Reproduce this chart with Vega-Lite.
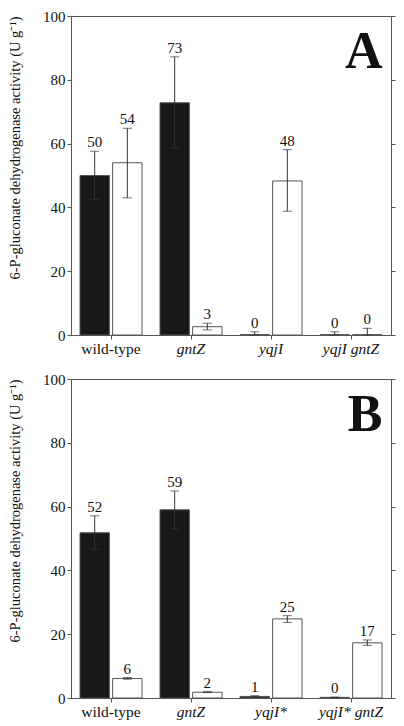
{
  "$schema": "https://vega.github.io/schema/vega-lite/v6.json",
  "padding": {"left": 6, "top": 8, "right": 4, "bottom": 4},
  "background": "white",
  "config": {
    "font": "Liberation Serif",
    "view": {"stroke": "#555", "strokeWidth": 1},
    "axis": {"domainColor": "#555", "tickColor": "#555", "labelColor": "#111", "titleColor": "#111", "labelFont": "Liberation Serif", "titleFont": "Liberation Serif", "grid": false},
    "concat": {"spacing": 14}
  },
  "datasets": {
    "bars": [
      {"panel": "A", "strain": "wild-type", "cond": "black", "value": 50, "lo": 42.5, "hi": 57.6, "label": "50"},
      {"panel": "A", "strain": "wild-type", "cond": "white", "value": 54, "lo": 43, "hi": 64.8, "label": "54"},
      {"panel": "A", "strain": "gntZ", "cond": "black", "value": 72.8, "lo": 58.5, "hi": 87.2, "label": "73"},
      {"panel": "A", "strain": "gntZ", "cond": "white", "value": 2.6, "lo": 1.6, "hi": 3.7, "label": "3"},
      {"panel": "A", "strain": "yqjI", "cond": "black", "value": 0.1, "lo": 0, "hi": 1.0, "label": "0"},
      {"panel": "A", "strain": "yqjI", "cond": "white", "value": 48.3, "lo": 38.8, "hi": 58.1, "label": "48"},
      {"panel": "A", "strain": "yqjI gntZ", "cond": "black", "value": 0.1, "lo": 0, "hi": 1.0, "label": "0"},
      {"panel": "A", "strain": "yqjI gntZ", "cond": "white", "value": 0.1, "lo": 0, "hi": 2.1, "label": "0"},
      {"panel": "B", "strain": "wild-type", "cond": "black", "value": 51.8, "lo": 46.5, "hi": 57.1, "label": "52"},
      {"panel": "B", "strain": "wild-type", "cond": "white", "value": 6.1, "lo": 5.9, "hi": 6.4, "label": "6"},
      {"panel": "B", "strain": "gntZ", "cond": "black", "value": 59, "lo": 53, "hi": 64.9, "label": "59"},
      {"panel": "B", "strain": "gntZ", "cond": "white", "value": 1.8, "lo": 1.7, "hi": 2.0, "label": "2"},
      {"panel": "B", "strain": "yqjI*", "cond": "black", "value": 0.5, "lo": 0.4, "hi": 0.7, "label": "1"},
      {"panel": "B", "strain": "yqjI*", "cond": "white", "value": 24.8, "lo": 23.7, "hi": 25.8, "label": "25"},
      {"panel": "B", "strain": "yqjI* gntZ", "cond": "black", "value": 0.2, "lo": 0.1, "hi": 0.3, "label": "0"},
      {"panel": "B", "strain": "yqjI* gntZ", "cond": "white", "value": 17.3, "lo": 16.5, "hi": 18.2, "label": "17"}
    ]
  },
  "vconcat": [
    {
      "width": 320,
      "height": 319,
      "title": {"text": "A", "anchor": "end", "orient": "top", "offset": -70, "dx": -13, "fontSize": 52, "fontWeight": "bold", "font": "Liberation Serif", "color": "#111"},
      "data": {"name": "bars"},
      "transform": [{"filter": "datum.panel == 'A'"}],
      "encoding": {
        "x": {"field": "strain", "type": "nominal", "sort": ["wild-type", "gntZ", "yqjI", "yqjI gntZ"],
          "scale": {"paddingInner": 0.225, "paddingOuter": 0.1125},
          "axis": {"title": null, "labelAngle": 0, "labelFontSize": 15.5, "tickSize": 4, "labelPadding": 2,
            "labelFontStyle": {"expr": "datum.value == 'wild-type' ? 'normal' : 'italic'"}}},
        "xOffset": {"field": "cond", "type": "nominal", "sort": ["black", "white"], "scale": {"paddingInner": 0.1}}
      },
      "layer": [
        {
          "mark": {"type": "bar", "stroke": "#555", "strokeWidth": 1},
          "encoding": {
            "y": {"field": "value", "type": "quantitative", "scale": {"domain": [0, 100]},
              "axis": {"orient": "left", "title": "6-P-gluconate dehydrogenase activity  (U g⁻¹)", "titleFontSize": 14.5, "titleFontWeight": "normal", "titleAnchor": "end", "titlePadding": 20, "labelFontSize": 15, "values": [0, 20, 40, 60, 80, 100], "tickSize": 4, "labelPadding": 2}},
            "fill": {"field": "cond", "type": "nominal", "scale": {"domain": ["black", "white"], "range": ["#181818", "#ffffff"]}, "legend": null}
          }
        },
        {
          "mark": {"type": "rule", "color": "#333", "strokeWidth": 1},
          "encoding": {"y": {"field": "lo", "type": "quantitative", "axis": null}, "y2": {"field": "hi"}}
        },
        {
          "mark": {"type": "tick", "color": "#333", "thickness": 1, "size": 9},
          "encoding": {"y": {"field": "hi", "type": "quantitative", "axis": null}}
        },
        {
          "mark": {"type": "tick", "color": "#333", "thickness": 1, "size": 9},
          "encoding": {"y": {"field": "lo", "type": "quantitative", "axis": null}}
        },
        {
          "mark": {"type": "text", "fontSize": 15, "baseline": "alphabetic", "dy": -4, "color": "#111"},
          "encoding": {"y": {"field": "hi", "type": "quantitative", "axis": {"orient": "right", "labels": false, "domain": false, "title": null, "values": [0, 20, 40, 60, 80, 100], "tickSize": 4}}, "text": {"field": "label"}}
        }
      ],
      "resolve": {"axis": {"y": "independent"}}
    },
    {
      "width": 320,
      "height": 319,
      "title": {"text": "B", "anchor": "end", "orient": "top", "offset": -70, "dx": -13, "fontSize": 52, "fontWeight": "bold", "font": "Liberation Serif", "color": "#111"},
      "data": {"name": "bars"},
      "transform": [{"filter": "datum.panel == 'B'"}],
      "encoding": {
        "x": {"field": "strain", "type": "nominal", "sort": ["wild-type", "gntZ", "yqjI*", "yqjI* gntZ"],
          "scale": {"paddingInner": 0.225, "paddingOuter": 0.1125},
          "axis": {"title": null, "labelAngle": 0, "labelFontSize": 15.5, "tickSize": 4, "labelPadding": 2,
            "labelFontStyle": {"expr": "datum.value == 'wild-type' ? 'normal' : 'italic'"}}},
        "xOffset": {"field": "cond", "type": "nominal", "sort": ["black", "white"], "scale": {"paddingInner": 0.1}}
      },
      "layer": [
        {
          "mark": {"type": "bar", "stroke": "#555", "strokeWidth": 1},
          "encoding": {
            "y": {"field": "value", "type": "quantitative", "scale": {"domain": [0, 100]},
              "axis": {"orient": "left", "title": "6-P-gluconate dehydrogenase activity  (U g⁻¹)", "titleFontSize": 14.5, "titleFontWeight": "normal", "titleAnchor": "end", "titlePadding": 20, "labelFontSize": 15, "values": [0, 20, 40, 60, 80, 100], "tickSize": 4, "labelPadding": 2}},
            "fill": {"field": "cond", "type": "nominal", "scale": {"domain": ["black", "white"], "range": ["#181818", "#ffffff"]}, "legend": null}
          }
        },
        {
          "mark": {"type": "rule", "color": "#333", "strokeWidth": 1},
          "encoding": {"y": {"field": "lo", "type": "quantitative", "axis": null}, "y2": {"field": "hi"}}
        },
        {
          "mark": {"type": "tick", "color": "#333", "thickness": 1, "size": 9},
          "encoding": {"y": {"field": "hi", "type": "quantitative", "axis": null}}
        },
        {
          "mark": {"type": "tick", "color": "#333", "thickness": 1, "size": 9},
          "encoding": {"y": {"field": "lo", "type": "quantitative", "axis": null}}
        },
        {
          "mark": {"type": "text", "fontSize": 15, "baseline": "alphabetic", "dy": -4, "color": "#111"},
          "encoding": {"y": {"field": "hi", "type": "quantitative", "axis": {"orient": "right", "labels": false, "domain": false, "title": null, "values": [0, 20, 40, 60, 80, 100], "tickSize": 4}}, "text": {"field": "label"}}
        }
      ],
      "resolve": {"axis": {"y": "independent"}}
    }
  ]
}
